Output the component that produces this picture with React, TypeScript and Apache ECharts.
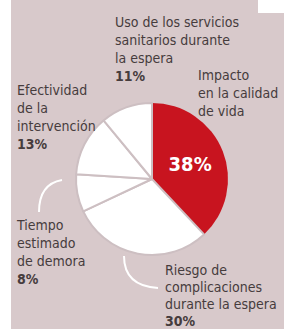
import React, { useEffect, useRef } from "react";
import * as echarts from "echarts";

const categories = [
  "Impacto\nen la calidad\nde vida",
  "Riesgo de\ncomplicaciones\ndurante la espera",
  "Tiempo\nestimado\nde demora",
  "Efectividad\nde la\nintervención",
  "Uso de los servicios\nsanitarios durante\nla espera",
];
const values = [38, 30, 8, 13, 11];
const showValueOutside = [false, true, true, true, true];

// layout of the outside labels (left, top, lineHeight) in px
const labelPos: [number, number, number][] = [
  [198, 66, 18],
  [165, 261, 17],
  [17, 216, 18],
  [17, 81, 18],
  [115, 13, 18],
];

const FONT = '"Liberation Sans Narrow", "DejaVu Sans Condensed", "Open Sans", sans-serif';
const TEXT = "#463c3d";
const BG = "#d8c9cb";
const RED = "#c8141f";

export default function App() {
  const ref = useRef<HTMLDivElement>(null);
  useEffect(() => {
    const chart = echarts.init(ref.current!, null, { renderer: "svg" });
    const texts = categories.map((c, i) => ({
      type: "text",
      left: labelPos[i][0],
      top: labelPos[i][1],
      z: 10,
      style: {
        text: showValueOutside[i] ? c + "\n{b|" + values[i] + "%}" : c,
        fontFamily: FONT,
        fontSize: 14,
        lineHeight: labelPos[i][2],
        fill: TEXT,
        rich: {
          b: { fontFamily: FONT, fontSize: 14, fontWeight: "bold", fill: TEXT, lineHeight: labelPos[i][2] },
        },
      },
    }));
    chart.setOption({
      animation: false,
      graphic: [
        { type: "rect", z: -10, shape: { x: 11, y: 0, width: 273, height: 329 }, style: { fill: BG } },
        { type: "rect", z: -9, shape: { x: 258, y: 0, width: 26, height: 13 }, style: { fill: "#ffffff" } },
        {
          type: "bezierCurve",
          z: 5,
          shape: { x1: 39, y1: 212, x2: 62, y2: 180, cpx1: 39, cpy1: 184 },
          style: { stroke: "#ffffff", lineWidth: 2, fill: "none" },
        },
        {
          type: "bezierCurve",
          z: 5,
          shape: { x1: 124, y1: 256, x2: 158, y2: 288, cpx1: 124, cpy1: 286 },
          style: { stroke: "#ffffff", lineWidth: 2, fill: "none" },
        },
        ...texts,
      ],
      series: [
        {
          type: "pie",
          center: [152, 179],
          radius: [0, 76],
          startAngle: 90,
          clockwise: true,
          label: { show: false },
          labelLine: { show: false },
          emphasis: { disabled: true },
          itemStyle: { borderColor: "#cdbfc2", borderWidth: 2 },
          data: values.map((v, i) => ({
            value: v,
            name: categories[i],
            itemStyle: i === 0 ? { color: RED, borderColor: RED, borderWidth: 0 } : { color: "#ffffff" },
            label:
              i === 0
                ? {
                    show: true,
                    position: "inside",
                    formatter: "{c}%",
                    color: "#ffffff",
                    fontFamily: FONT,
                    fontWeight: "bold",
                    fontSize: 20,
                  }
                : { show: false },
          })),
        },
      ],
    });
    return () => chart.dispose();
  }, []);
  return (
    <div
      ref={ref}
      style={{ position: "absolute", left: 0, top: 0, width: 284, height: 329, background: "#ffffff" }}
    />
  );
}
